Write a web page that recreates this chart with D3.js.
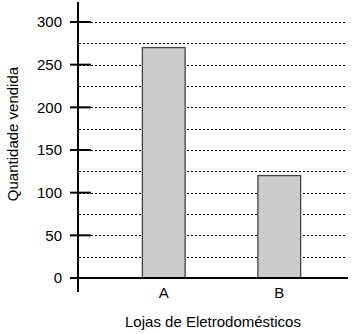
<!DOCTYPE html>
<html>
<head>
<meta charset="utf-8">
<script src="https://cdn.jsdelivr.net/npm/d3@7"></script>
<style>
  body { margin: 0; background: #fff; }
  text { font-family: "Liberation Sans", Arial, sans-serif; fill: #000; }
</style>
</head>
<body>
<div id="chart"></div>
<script>
// data
const stores = ["A", "B"];
const sales = [270, 120];
const yTicks = [0, 50, 100, 150, 200, 250, 300];
const gridValues = [25, 50, 75, 100, 125, 150, 175, 200, 225, 250, 275, 300];

const width = 355, height = 334;

let svg = d3.select("#chart").append("svg")
    .attr("width", width)
    .attr("height", height);

// scales
let yScale = d3.scaleLinear().domain([0, 300]).range([278, 22]);
let xScale = d3.scaleBand().domain(stores).range([106, 337])
    .paddingInner(0.63).paddingOuter(0.315);

// dotted grid lines
svg.selectAll(".grid")
    .data(gridValues)
    .enter()
    .append("line")
    .attr("class", "grid")
    .attr("x1", 79)
    .attr("x2", 347)
    .attr("y1", d => Math.round(yScale(d)) + 0.5)
    .attr("y2", d => Math.round(yScale(d)) + 0.5)
    .style("stroke", "#000")
    .style("stroke-width", 1)
    .style("stroke-dasharray", "2,2");

// bars
svg.selectAll(".bar")
    .data(stores)
    .enter()
    .append("rect")
    .attr("class", "bar")
    .attr("x", d => xScale(d))
    .attr("width", xScale.bandwidth())
    .attr("y", (d, i) => yScale(sales[i]))
    .attr("height", (d, i) => yScale(0) - yScale(sales[i]))
    .style("fill", "#cccccc")
    .style("stroke", "#444")
    .style("stroke-width", 1.3);

// y axis
let yAxis = d3.axisLeft(yScale)
    .tickValues(yTicks)
    .tickSizeInner(0)
    .tickSizeOuter(0)
    .tickPadding(16);

let gy = svg.append("g")
    .attr("transform", "translate(78,0)")
    .call(yAxis);
gy.select(".domain").remove();
gy.selectAll("text").style("font-size", "15px");

// tick marks crossing the axis
svg.selectAll(".ytick")
    .data(yTicks)
    .enter()
    .append("line")
    .attr("class", "ytick")
    .attr("x1", 70)
    .attr("x2", 91)
    .attr("y1", d => yScale(d))
    .attr("y2", d => yScale(d))
    .style("stroke", "#000")
    .style("stroke-width", 2);

// vertical axis line
svg.append("line")
    .attr("x1", 78).attr("x2", 78)
    .attr("y1", 2).attr("y2", 292)
    .style("stroke", "#000")
    .style("stroke-width", 2);

// baseline
svg.append("line")
    .attr("x1", 70).attr("x2", 348)
    .attr("y1", yScale(0)).attr("y2", yScale(0))
    .style("stroke", "#000")
    .style("stroke-width", 2);

// x axis labels
let xAxis = d3.axisBottom(xScale).tickSize(0).tickPadding(9);
let gx = svg.append("g")
    .attr("transform", "translate(0," + yScale(0) + ")")
    .call(xAxis);
gx.select(".domain").remove();
gx.selectAll("text").style("font-size", "15px");

// axis titles
svg.append("text")
    .attr("x", 213)
    .attr("y", 327)
    .style("text-anchor", "middle")
    .style("font-size", "15px")
    .text("Lojas de Eletrodomésticos");

svg.append("text")
    .attr("transform", "translate(18,134) rotate(-90)")
    .style("text-anchor", "middle")
    .style("font-size", "15px")
    .text("Quantidade vendida");
</script>
</body>
</html>
